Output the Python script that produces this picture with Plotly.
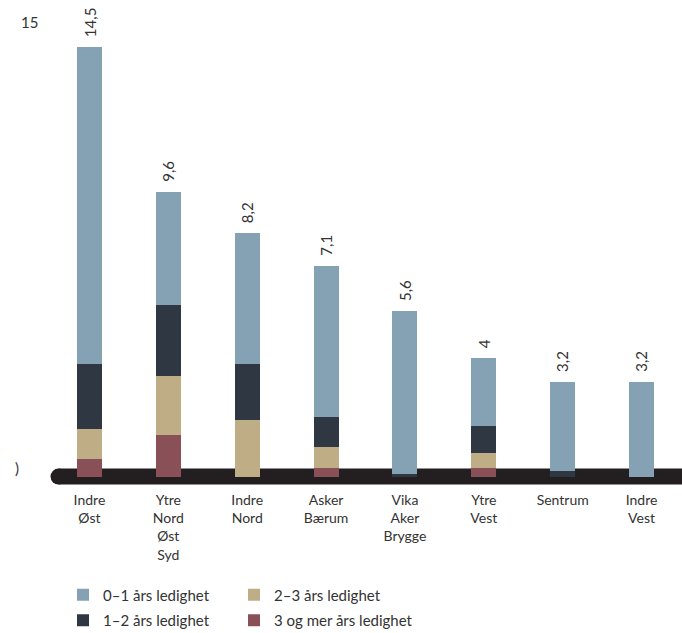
import plotly.graph_objects as go

# Regions along the x axis
regions = ["Indre<br>Øst", "Ytre<br>Nord<br>Øst<br>Syd", "Indre<br>Nord", "Asker<br>Bærum",
           "Vika<br>Aker<br>Brygge", "Ytre<br>Vest", "Sentrum", "Indre<br>Vest"]

# Unemployment duration shares per region (stacked bottom to top)
over_3 = [0.6, 1.4, 0.0, 0.3, 0.0, 0.3, 0.0, 0.0]
y_2_3 = [1.0, 2.0, 1.9, 0.7, 0.0, 0.5, 0.0, 0.0]
y_1_2 = [2.2, 2.4, 1.9, 1.0, 0.1, 0.9, 0.2, 0.0]
y_0_1 = [10.7, 3.8, 4.4, 5.1, 5.5, 2.3, 3.0, 3.2]

# Total labels above each bar
totals = ["14,5", "9,6", "8,2", "7,1", "5,6", "4", "3,2", "3,2"]

series = [
    ("3 og mer års ledighet", over_3, "#8a5058", "legend2", 2),
    ("2–3 års ledighet", y_2_3, "#bfad85", "legend2", 1),
    ("1–2 års ledighet", y_1_2, "#2f3743", "legend", 2),
    ("0–1 års ledighet", y_0_1, "#85a2b4", "legend", 1),
]

FONT = "Lato"
TEXT = "#333333"

fig = go.Figure()
for name, vals, color, leg, rank in series:
    fig.add_trace(go.Bar(
        x=list(range(len(regions))), y=vals, name=name,
        marker=dict(color=color, line=dict(width=0)),
        legend=leg, legendrank=rank, legendgroup=name, hoverinfo="skip",
    ))

# Value labels above the stacks
stack_tops = [a + b + c + d for a, b, c, d in zip(over_3, y_2_3, y_1_2, y_0_1)]
for i, (top, lab) in enumerate(zip(stack_tops, totals)):
    fig.add_annotation(x=i, y=top, text=lab, showarrow=False, textangle=-90,
                       xanchor="center", yanchor="bottom", yshift=8,
                       font=dict(family=FONT, size=15, color=TEXT))

# Y-axis labels
fig.add_annotation(xref="paper", x=-10 / 631, y=15, text="15", showarrow=False,
                   xanchor="right", yanchor="middle", yshift=10,
                   font=dict(family=FONT, size=15, color=TEXT))
fig.add_annotation(xref="paper", x=-33 / 631, y=0, text=")", showarrow=False,
                   xanchor="center", yanchor="middle", yshift=9,
                   font=dict(family=FONT, size=15, color=TEXT))

# Thick dark baseline with a rounded left end
band_color = "#231f20"
fig.add_shape(type="rect", xref="paper", yref="y", ysizemode="pixel", yanchor=0,
              x0=8.5 / 631, x1=1.01, y0=-8, y1=8, layer="below",
              fillcolor=band_color, line=dict(width=0))
fig.add_shape(type="circle", xref="paper", yref="y", xsizemode="pixel", ysizemode="pixel",
              xanchor=8.5 / 631, yanchor=0, x0=-8, x1=8, y0=-8, y1=8, layer="below",
              fillcolor=band_color, line=dict(width=0))

fig.update_layout(
    width=682, height=633,
    margin=dict(l=50, r=1, t=20, b=146, autoexpand=False),
    barmode="stack", bargap=0.684,
    plot_bgcolor="white", paper_bgcolor="white",
    font=dict(family=FONT, size=14, color=TEXT),
    xaxis=dict(tickvals=list(range(len(regions))), ticktext=regions,
               range=[-0.5, 7.5], showgrid=False, zeroline=False, showline=False,
               ticks="", ticklabelstandoff=3, tickfont=dict(size=14, color=TEXT)),
    yaxis=dict(range=[-0.35, 15.4], showgrid=False, zeroline=False, showline=False,
               showticklabels=False, ticks=""),
    legend=dict(orientation="v", x=13 / 631, xanchor="left", y=-0.196, yanchor="top",
                font=dict(family=FONT, size=15, color=TEXT), traceorder="grouped",
                tracegroupgap=3, bgcolor="rgba(0,0,0,0)"),
    legend2=dict(orientation="v", x=(248 - 50 - 14) / 631, xanchor="left", y=-0.196,
                 yanchor="top", font=dict(family=FONT, size=15, color=TEXT),
                 traceorder="grouped", tracegroupgap=3, bgcolor="rgba(0,0,0,0)"),
    showlegend=True,
)

fig.write_html("out.html")
